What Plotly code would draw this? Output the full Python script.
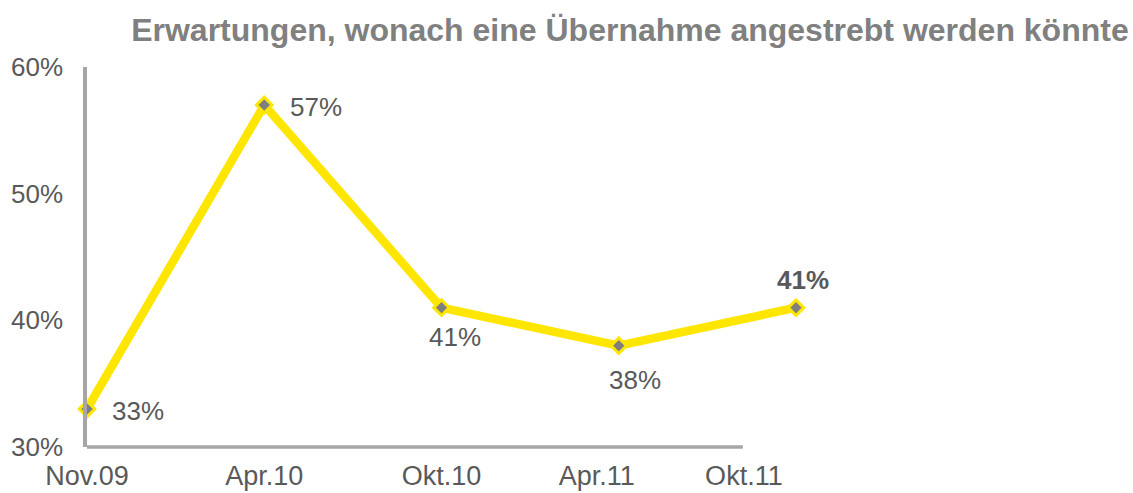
import plotly.graph_objects as go

categories = ["Nov.09", "Apr.10", "Okt.10", "Apr.11", "Okt.11"]
values = [33, 57, 41, 38, 41]
value_labels = ["33%", "57%", "41%", "38%", "<b>41%</b>"]
y_ticks = [30, 40, 50, 60]
y_tick_labels = ["30%", "40%", "50%", "60%"]
title_text = "Erwartungen, wonach eine Übernahme angestrebt werden könnte"

FONT = "Liberation Sans, Arial, sans-serif"
TXT = "#595959"
xidx = list(range(len(categories)))

fig = go.Figure()
fig.add_trace(go.Scatter(
    x=xidx, y=values, mode="lines+markers",
    line=dict(color="#FFE600", width=8.5),
    marker=dict(symbol="diamond", size=12, color="#7F7F7F",
                line=dict(color="#FFE600", width=3)),
    cliponaxis=False, hoverinfo="skip", showlegend=False,
))

# label offsets (pixels) per point
offs = [(23, -2, "left"), (24, -2, "left"), (13, -29, "center"), (16, -34, "center"), (7, 28, "center")]
for i, (v, t) in enumerate(zip(values, value_labels)):
    dx, dy, al = offs[i]
    fig.add_annotation(x=xidx[i], y=v, text=t, showarrow=False,
                       xanchor=al, yanchor="middle", xshift=dx, yshift=dy,
                       font=dict(family=FONT, size=26, color=TXT))

fig.add_shape(type="line", xref="paper", yref="paper", x0=0, x1=0.925, y0=0, y1=0,
              line=dict(color="#A6A6A6", width=3.5))

fig.update_layout(
    width=1133, height=493,
    margin=dict(l=87, r=337, t=67, b=46),
    paper_bgcolor="white", plot_bgcolor="white",
    title=dict(text=f"<b>{title_text}</b>", x=0.556, xanchor="center", y=0.94, yanchor="middle",
               font=dict(family=FONT, size=32, color="#808080")),
    xaxis=dict(range=[0, 4], tickvals=[0, 1, 2, 2.876, 3.706], ticktext=categories,
               showgrid=False, zeroline=False, showline=False, ticks="",
               ticklabelstandoff=10, automargin=False,
               tickfont=dict(family=FONT, size=27, color=TXT)),
    yaxis=dict(range=[30, 60], tickvals=y_ticks, ticktext=y_tick_labels,
               showgrid=False, zeroline=False, showline=True, linecolor="#A6A6A6", linewidth=3.5,
               ticks="", ticklabelstandoff=15, automargin=False,
               tickfont=dict(family=FONT, size=26, color=TXT)),
)

fig.write_html("out.html")
